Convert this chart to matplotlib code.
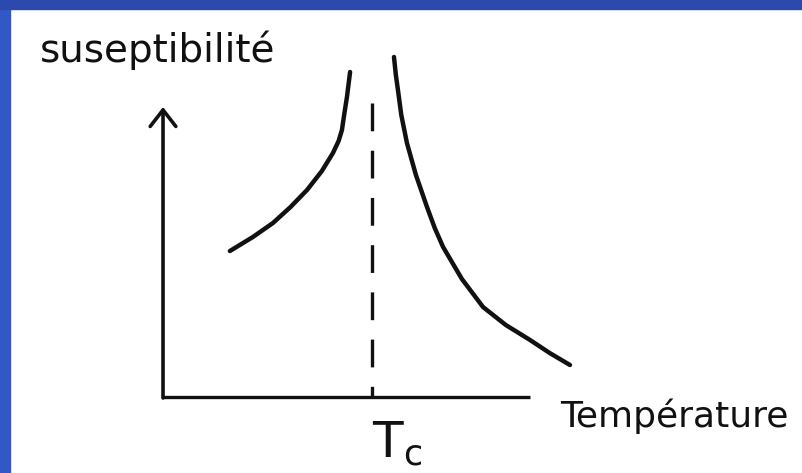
import matplotlib
matplotlib.use("Agg")
import matplotlib.pyplot as plt
from matplotlib.patches import Rectangle

# temperature in units of Tc, susceptibility in arbitrary units
T_c = 1.0
T_below = [0.32, 0.43, 0.526, 0.61, 0.689, 0.76, 0.813, 0.840, 0.856, 0.868, 0.880, 0.895]
chi_below = [1.46, 1.60, 1.74, 1.90, 2.07, 2.26, 2.44, 2.56, 2.67, 2.84, 3.00, 3.25]
T_above = [1.105, 1.114, 1.124, 1.140, 1.167, 1.21, 1.263, 1.30, 1.340, 1.43, 1.531, 1.64, 1.756, 1.85, 1.947]
chi_above = [3.40, 3.22, 3.07, 2.82, 2.54, 2.22, 1.90, 1.69, 1.50, 1.18, 0.90, 0.72, 0.57, 0.44, 0.32]

x_max = 1.756    # end of the temperature axis
y_max = 2.90     # tip of the susceptibility arrow
dash_top = 2.94

fig = plt.figure(figsize=(8.03, 4.73), dpi=100)
ax = fig.add_axes([0, 0, 1, 1])
ax.set_xlim(-0.780, 3.062)
ax.set_ylim(-0.76, 3.97)
ax.axis("off")

ink = "#111111"

# axes of the sketch
ax.plot([0, x_max], [0, 0], color=ink, lw=2.4, solid_capstyle="butt")
ax.annotate("", xy=(0, y_max), xytext=(0, -0.01),
            arrowprops=dict(arrowstyle="->,head_length=0.27,head_width=0.21",
                            color=ink, lw=2.6, mutation_scale=44,
                            shrinkA=0, shrinkB=0))

# Curie temperature
lw_d = 2.4
ax.plot([T_c, T_c], [dash_top, 0], color=ink, lw=lw_d,
        dashes=(20 / lw_d, 14 / lw_d), solid_capstyle="butt")

# susceptibility on both sides of Tc
ax.plot(T_below, chi_below, color=ink, lw=3.2, solid_capstyle="round",
        solid_joinstyle="round")
ax.plot(T_above, chi_above, color=ink, lw=3.2, solid_capstyle="round",
        solid_joinstyle="round")

ax.text(-0.589, 3.35, "suseptibilité", fontsize=28, color=ink,
        ha="left", va="baseline")
ax.text(1.90, -0.30, "Température", fontsize=26, color=ink,
        ha="left", va="baseline")
ax.text(1.12, -0.23, r"$\mathrm{T}_\mathrm{c}$", fontsize=36, color=ink,
        ha="center", va="top")

# blue frame on the left and top edges
fig.patches.append(Rectangle((0, 0), 10 / 803, 1, transform=fig.transFigure,
                             color="#3058c6", zorder=5))
fig.patches.append(Rectangle((0, 1 - 9 / 473), 1, 9 / 473,
                             transform=fig.transFigure, color="#2c4aad",
                             zorder=5))

fig.savefig("out.png", dpi=100)
